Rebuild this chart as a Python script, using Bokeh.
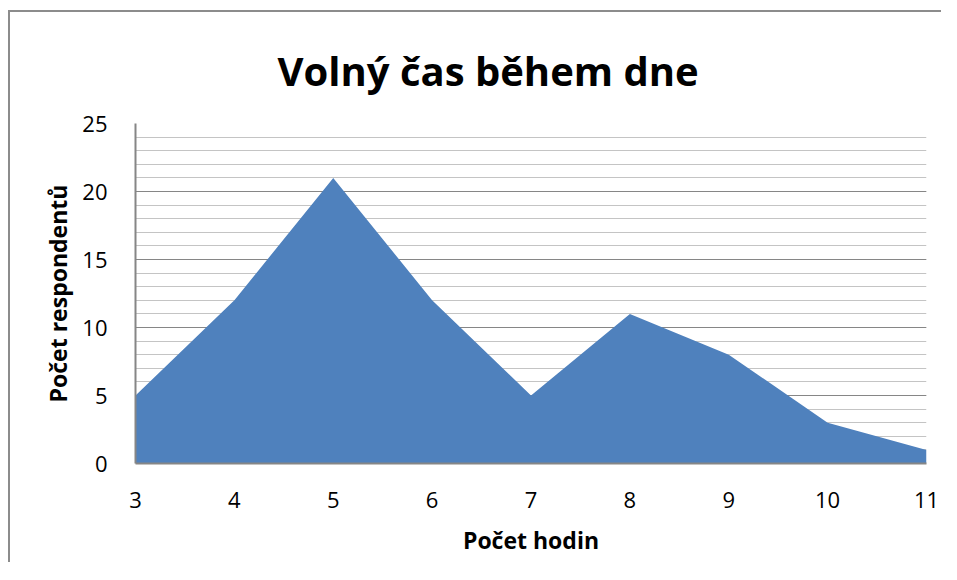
from bokeh.plotting import figure
from bokeh.models import Range1d, SingleIntervalTicker, FixedTicker
from bokeh.embed import file_html
from bokeh.resources import INLINE

hours = [3, 4, 5, 6, 7, 8, 9, 10, 11]
respondents = [5, 12, 21, 12, 5, 11, 8, 3, 1]

W, H = 933, 552
p = figure(width=W, height=H, output_backend="svg", toolbar_location=None,
           x_range=Range1d(3, 11), y_range=Range1d(0, 25),
           min_border_left=125, min_border_right=W - 916,
           min_border_top=111, min_border_bottom=H - 451,
           styles={"border-left": "2px solid #8c8c8c",
                   "border-top": "2px solid #8c8c8c",
                   "margin-left": "8px", "margin-top": "10px"})

p.title.text = "Volný čas během dne"
p.title.align = "left"
p.title.text_font = "Open Sans"
p.title.text_font_style = "bold"
p.title.text_font_size = "40px"
p.title.text_color = "black"
p.title.offset = 142
p.title.standoff = 52

p.varea(x=hours, y1=0, y2=respondents, fill_color="#4F81BD")

p.outline_line_color = None
p.xgrid.grid_line_color = None
p.ygrid.ticker = SingleIntervalTicker(interval=5, num_minor_ticks=5)
p.yaxis.ticker = SingleIntervalTicker(interval=5, num_minor_ticks=5)
p.xaxis.ticker = FixedTicker(ticks=hours)
p.ygrid.grid_line_color = "#868686"
p.ygrid.grid_line_width = 1
p.ygrid.minor_grid_line_color = "#c4c4c4"
p.ygrid.minor_grid_line_width = 1

for ax in (p.xaxis, p.yaxis):
    ax.axis_line_color = "#868686"
    ax.axis_line_width = 2
    ax.major_tick_line_color = None
    ax.minor_tick_line_color = None
    ax.major_label_text_font = "Open Sans"
    ax.major_label_text_font_size = "22px"
    ax.major_label_text_color = "black"
    ax.axis_label_text_font = "Open Sans"
    ax.axis_label_text_font_style = "bold"
    ax.axis_label_text_font_size = "23px"
    ax.axis_label_text_color = "black"

p.xaxis.axis_label = "Počet hodin"
p.yaxis.axis_label = "Počet respondentů"
p.xaxis.major_label_standoff = 22
p.yaxis.major_label_standoff = 22
p.xaxis.axis_label_standoff = 13
p.yaxis.axis_label_standoff = 5

open("out.html", "w").write(file_html(p, INLINE))
